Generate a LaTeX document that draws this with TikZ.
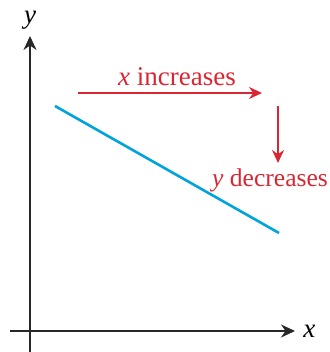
\documentclass[tikz,border=0pt]{standalone}
\usepackage{fontspec}
\setmainfont{Liberation Serif}
\usetikzlibrary{positioning,arrows.meta}

\definecolor{axisgray}{RGB}{40,40,40}
\definecolor{trendred}{RGB}{218,38,50}
\definecolor{lineblue}{RGB}{0,163,218}

\begin{document}
\begin{tikzpicture}[
    x=0.5pt, y=0.5pt,
    font=\fontsize{13.5}{16}\selectfont,
    axis/.style={draw=axisgray, line width=1pt, -{Stealth[length=7pt, width=6.5pt]}},
    trend/.style={draw=trendred, line width=0.8pt, -{Stealth[length=6.5pt, width=6pt]}},
    graph/.style={draw=lineblue, line width=1.3pt},
    txt/.style={inner sep=1pt},
    redtxt/.style={txt, text=trendred}
]
\useasboundingbox (0,0) rectangle (330,352);

% ===== Axes =====
\coordinate (ybot) at (30,0);
\coordinate (ytop) at (30,316);
\coordinate (xleft) at (10,21);
\coordinate (xright) at (295,21);
\draw[axis] (ybot) -- (ytop);
\draw[axis] (xleft) -- (xright);
\node[txt, right=3pt of xright] (xlab) {\textit{x}};
\node[txt, above=2pt of ytop] (ylab) {\textit{y}};

% ===== Decreasing line =====
\coordinate (lstart) at (55,246);
\coordinate (lend) at (279,119);
\draw[graph] (lstart) -- (lend);

% ===== x increases =====
\coordinate (hstart) at (78,259);
\coordinate (hend) at (262,259);
\draw[trend] (hstart) -- (hend);
\node[redtxt] (xinc) at (177,275) {\textit{x} increases};

% ===== y decreases =====
\coordinate (vstart) at (278,246);
\coordinate (vend) at (278,189);
\draw[trend] (vstart) -- (vend);
\node[redtxt, inner sep=0pt, font=\fontsize{12.8}{15}\selectfont] (ydec) at (270,172) {\textit{y} decreases};

\end{tikzpicture}
\end{document}
